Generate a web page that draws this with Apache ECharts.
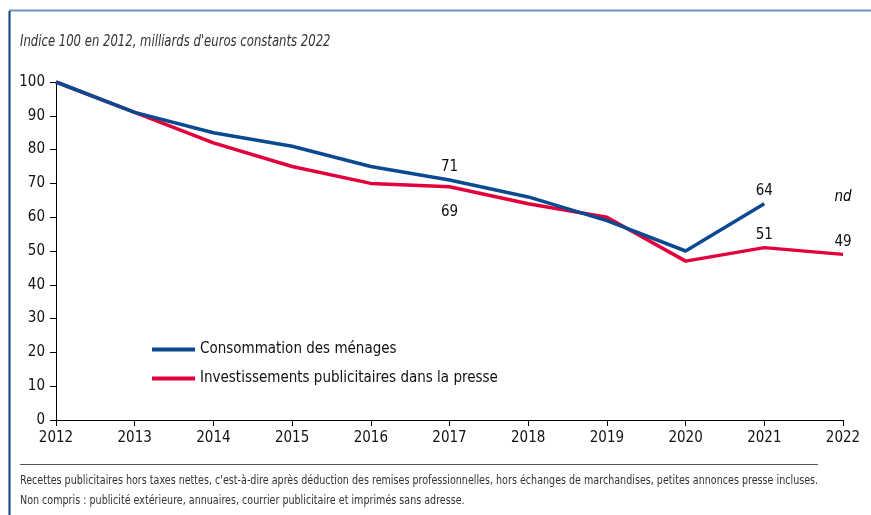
<!DOCTYPE html>
<html>
<head>
<meta charset="utf-8">
<script src="https://cdn.jsdelivr.net/npm/echarts@6/dist/echarts.min.js"></script>
<style>
  html, body { margin: 0; padding: 0; background: #fff; }
  #main { width: 871px; height: 515px; }
</style>
</head>
<body>
<div id="main"></div>
<script>
// données (indice 100 en 2012)
var annees = ['2012','2013','2014','2015','2016','2017','2018','2019','2020','2021','2022'];
var consommation = [100, 91, 85, 81, 75, 71, 66, 59, 50, 64, null];
var presse = [100, 91, 82, 75, 70, 69, 64, 60, 47, 51, 49];
// étiquettes affichées : index -> position
var etiqConso = {5: 'top', 9: 'top'};
var etiqPresse = {5: 'bottom', 9: 'top', 10: 'top'};
var ndPoint = [['2022', 66]];

var police = '"DejaVu Sans Condensed", "Liberation Sans Narrow", sans-serif';
var bleu = '#0b4a90';
var rouge = '#e2003c';

function avecEtiquettes(values, positions) {
  return values.map(function (v, i) {
    if (positions[i] === undefined || v === null) return v;
    return {
      value: v,
      label: {
        show: true,
        position: positions[i],
        distance: positions[i] === 'top' ? 5 : 18,
        fontFamily: police,
        fontSize: 15,
        color: '#111'
      }
    };
  });
}

var myChart = echarts.init(document.getElementById('main'));

var option = {
  animation: false,
  textStyle: { fontFamily: police },
  grid: { left: 56, right: 28, top: 82, bottom: 95 },
  legend: {
    orient: 'vertical',
    left: 152,
    top: 341,
    padding: 0,
    itemWidth: 43,
    itemHeight: 4,
    itemGap: 12,
    icon: 'rect',
    textStyle: { fontFamily: police, fontSize: 15, color: '#111', lineHeight: 17 },
    data: ['Consommation des ménages', 'Investissements publicitaires dans la presse']
  },
  xAxis: {
    type: 'category',
    boundaryGap: false,
    data: annees,
    axisLine: { lineStyle: { color: '#000', width: 1 } },
    axisTick: { show: true, length: 6, lineStyle: { color: '#000' } },
    axisLabel: { fontFamily: police, fontSize: 15, color: '#111', margin: 11 },
    splitLine: { show: false }
  },
  yAxis: {
    type: 'value',
    min: 0,
    max: 100,
    interval: 10,
    axisLine: { show: true, lineStyle: { color: '#000', width: 1 } },
    axisTick: { show: true, length: 6, lineStyle: { color: '#000' } },
    axisLabel: { fontFamily: police, fontSize: 15, color: '#111', margin: 11, padding: [0, 0, 9, 0] },
    splitLine: { show: false }
  },
  graphic: [
    { type: 'line', shape: { x1: 9, y1: 10.5, x2: 871, y2: 10.5 }, style: { stroke: '#6f93c2', lineWidth: 2 } },
    { type: 'line', shape: { x1: 9.5, y1: 11, x2: 9.5, y2: 515 }, style: { stroke: '#0b3f86', lineWidth: 2 } },
    { type: 'line', shape: { x1: 20, y1: 464.5, x2: 818, y2: 464.5 }, style: { stroke: '#555', lineWidth: 1 } },
    {
      type: 'text', x: 20, y: 34, scaleX: 0.81,
      style: { text: "Indice 100 en 2012, milliards d'euros constants 2022", font: 'italic 16px ' + police, fill: '#333' }
    },
    {
      type: 'text', x: 20, y: 474, scaleX: 0.818,
      style: { text: "Recettes publicitaires hors taxes nettes, c'est-à-dire après déduction des remises professionnelles, hors échanges de marchandises, petites annonces presse incluses.", font: '13px ' + police, fill: '#333' }
    },
    {
      type: 'text', x: 20, y: 494, scaleX: 0.818,
      style: { text: 'Non compris : publicité extérieure, annuaires, courrier publicitaire et imprimés sans adresse.', font: '13px ' + police, fill: '#333' }
    }
  ],
  series: [
    {
      name: 'Consommation des ménages',
      type: 'line',
      data: avecEtiquettes(consommation, etiqConso),
      color: bleu,
      symbol: 'circle',
      symbolSize: 0,
      showSymbol: true,
      lineStyle: { width: 3.5, color: bleu },
      z: 3
    },
    {
      name: 'Investissements publicitaires dans la presse',
      type: 'line',
      data: avecEtiquettes(presse, etiqPresse),
      color: rouge,
      symbol: 'circle',
      symbolSize: 0,
      showSymbol: true,
      lineStyle: { width: 3.5, color: rouge },
      z: 2
    },
    {
      name: 'nd',
      type: 'scatter',
      data: ndPoint,
      symbolSize: 0,
      silent: true,
      itemStyle: { opacity: 1 },
      label: {
        show: true,
        position: 'inside',
        formatter: 'nd',
        fontFamily: police,
        fontStyle: 'italic',
        fontSize: 15,
        color: '#000'
      }
    }
  ]
};

myChart.setOption(option);
</script>
</body>
</html>
